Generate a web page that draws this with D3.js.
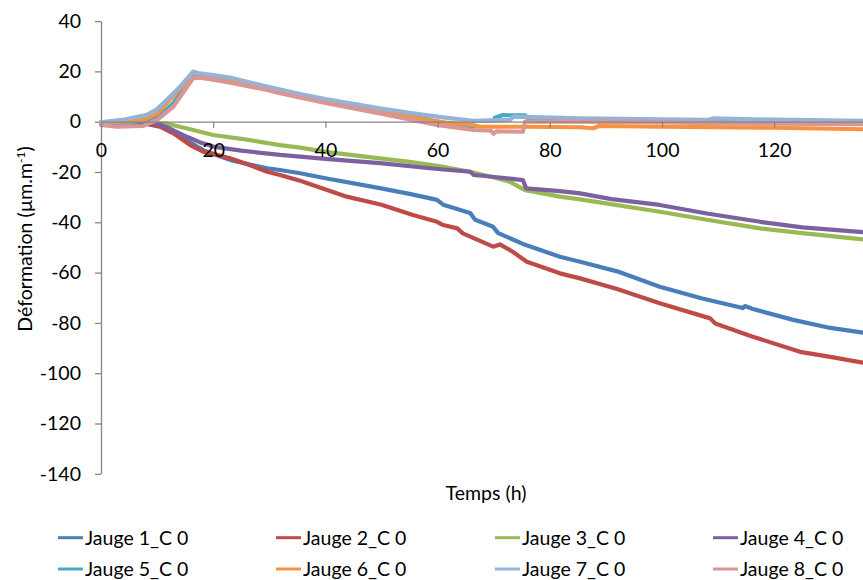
<!DOCTYPE html>
<html>
<head>
<meta charset="utf-8">
<script src="https://cdn.jsdelivr.net/npm/d3@7"></script>
<style>
  html, body { margin: 0; padding: 0; background: #fff; overflow: hidden; }
  svg { display: block; font-family: Lato, "Open Sans", sans-serif; }
</style>
</head>
<body>
<svg id="chart" width="863" height="580"></svg>
<script>
// ---- Data (Temps en h, Déformation en µm/m) ----
const seriesNames = ["Jauge 1_C 0","Jauge 2_C 0","Jauge 3_C 0","Jauge 4_C 0","Jauge 5_C 0","Jauge 6_C 0","Jauge 7_C 0","Jauge 8_C 0"];
const seriesColors = ["#4a7ebb","#be4b48","#98b954","#7d60a0","#46aac5","#f69240","#95b3d7","#d99694"];
const xTicks = [0,20,40,60,80,100,120];
const yTicks = [-140,-120,-100,-80,-60,-40,-20,0,20,40];

const jauge1 = [[0,-1],[8,-0.8],[10.5,-1.8],[12.9,-4.2],[15.9,-8.3],[18.2,-11.3],[20,-12.8],[23.5,-15.5],[29.6,-18.5],[31.9,-19.2],[35.5,-20.5],[40,-22.5],[49.7,-26.4],[55,-28.7],[59.9,-31.1],[61,-33],[65.8,-36.3],[66.7,-39],[69.9,-41.8],[70.8,-44.3],[75.2,-48.6],[81.8,-53.7],[85.4,-55.7],[92,-59.5],[99.6,-65.6],[107,-70.2],[114.4,-74.1],[114.8,-73.3],[116.2,-74.5],[123.4,-78.8],[130,-82],[135.8,-83.9],[140,-85.2]];
const jauge2 = [[0,-1],[8,-0.8],[10.5,-2],[12.9,-4.6],[15.9,-9.3],[18.2,-11.9],[20,-12.8],[23,-14.5],[26,-16.8],[29.6,-19.9],[31.9,-21.2],[35.5,-23.5],[43.8,-29.8],[50,-33],[55.6,-37.1],[59.9,-39.8],[61,-41.1],[63.5,-42.4],[64.5,-44.4],[69.9,-49.7],[71.1,-48.8],[73.4,-51.7],[75.9,-55.7],[81.8,-60.3],[85.4,-62.3],[92,-66.5],[99.6,-72.2],[108.6,-78.2],[109.5,-80.2],[114.4,-84.1],[116.2,-85.5],[124.6,-91.5],[130,-93.5],[135.8,-95.8],[140,-97]];
const jauge3 = [[0,-0.3],[8,-0.3],[11.7,-0.8],[15,-2.5],[20,-5.3],[25,-6.8],[31.9,-9.3],[35.5,-10.3],[40,-12],[49.7,-14.6],[55,-16],[60,-17.5],[65.8,-19.9],[70.6,-22.5],[73,-24],[75.6,-27.2],[81.8,-29.8],[85.4,-30.9],[88,-31.8],[99.6,-35.8],[108,-39],[117.5,-42.4],[125,-44.3],[135.8,-46.8],[140,-48]];
const jauge4 = [[0,-0.3],[8,-0.3],[9.9,-0.6],[12,-2.5],[15.3,-6],[18,-8.5],[20,-9.9],[25,-11.5],[31.9,-13.2],[35.5,-13.9],[40,-14.8],[49.7,-16.5],[60,-18.8],[65.8,-19.9],[66.5,-21.2],[70.6,-22.1],[75.2,-23.2],[75.8,-26.5],[81.8,-27.6],[85.4,-28.5],[91,-30.8],[99.6,-33.1],[108,-36.5],[117.5,-39.8],[125,-42],[135.8,-43.9],[140,-44.8]];
const jauge5 = [[0,-1],[4,-0.5],[8.2,0.4],[10.6,2.7],[12.9,7.4],[16.4,19],[17.6,18.8],[23.5,17],[29.6,13.6],[40,8.3],[49.7,5],[55,3],[58.6,0.7],[62,-0.8],[66.5,-2],[null,null],[70.2,1.6],[71.5,2.6],[75.6,2.5],[76.2,1.2],[85.4,1],[100,0.6],[120,0.5],[135.8,0],[140,0]];
const jauge6 = [[0,-0.3],[5,0],[8.2,1.3],[10,3.3],[11.7,7.4],[14,13],[16.4,17.5],[17.6,17.5],[23.5,15.8],[29.6,13],[40,8],[49.7,4.3],[58.6,0.5],[62,-0.5],[66.3,-1.3],[67.6,-2],[75.6,-2],[85.4,-2.2],[87.7,-2.6],[88.8,-1.7],[100,-2],[120,-2.4],[135.8,-3],[140,-3]];
const jauge7 = [[0,-0.3],[4,0.8],[8.2,2.7],[10,5],[11.7,8.6],[14.1,13.9],[16.4,19.9],[17.6,19.2],[20,18.5],[23.5,17.3],[29.6,14],[35.5,11],[40,9],[49.7,5.3],[55,3.5],[59.9,2],[66.3,0.3],[72.9,0.7],[73.5,2],[85.4,1.3],[100,0.9],[108,0.7],[109,1.3],[120,0.8],[135.8,0.3],[140,0.2]];
const jauge8 = [[0,-1.3],[2.8,-2],[7.5,-1.7],[10,0.7],[12.9,6],[16.4,17.3],[17.6,17.7],[23.5,15.3],[29.6,12.6],[31.9,11.3],[40,7.5],[49.7,3.3],[59.9,-1.3],[66.3,-3.3],[69.5,-3.6],[70,-4.8],[70.5,-3.8],[75.2,-4],[75.6,0],[85.4,0],[100,-0.3],[120,-0.8],[135.8,-1],[140,-1]];
const allSeries = [jauge1,jauge2,jauge3,jauge4,jauge5,jauge6,jauge7,jauge8];

// ---- Layout ----
const svg = d3.select("#chart");
const x = d3.scaleLinear().domain([0,140]).range([101, 101 + 5.61*140]);
const y = d3.scaleLinear().domain([-140,40]).range([473.8, 21.1]);
const axisColor = "#868686";
const fontSize = 19.5;
const fmt = d => String(d);

// Y axis
const yAxis = svg.append("g").attr("transform", `translate(${x(0)},0)`)
  .call(d3.axisLeft(y).tickValues(yTicks).tickSize(6).tickSizeOuter(0).tickPadding(14).tickFormat(fmt));
yAxis.select(".domain").attr("stroke", axisColor).attr("stroke-width", 1.3);
yAxis.selectAll(".tick line").attr("stroke", axisColor).attr("stroke-width", 1.3);
yAxis.selectAll("text").attr("font-size", fontSize).attr("font-family", "Lato, sans-serif").attr("fill", "#000");

// X axis at y=0
const xAxis = svg.append("g").attr("transform", `translate(0,${y(0)})`)
  .call(d3.axisBottom(x).tickValues(xTicks).tickSize(6).tickSizeOuter(0).tickFormat(fmt));
xAxis.select(".domain").attr("stroke", axisColor).attr("stroke-width", 1.3);
xAxis.selectAll(".tick line").attr("stroke", axisColor).attr("stroke-width", 1.3);

// Series lines
const line = d3.line().defined(d => d[0] !== null).x(d => x(d[0])).y(d => y(d[1]));
svg.append("g").selectAll("path").data(allSeries).join("path")
  .attr("d", line)
  .attr("fill", "none")
  .attr("stroke", (d,i) => seriesColors[i])
  .attr("stroke-width", 4.2)
  .attr("stroke-linejoin", "round")
  .attr("stroke-linecap", "round");

// x tick labels on top
xAxis.raise();
xAxis.selectAll("text").attr("font-size", fontSize).attr("font-family", "Lato, sans-serif")
  .attr("fill", "#000").attr("y", 35).attr("dy", 0);

// Axis titles
svg.append("text").attr("x", 486).attr("y", 500).attr("text-anchor", "middle")
  .attr("font-size", fontSize).text("Temps (h)");
const yt = svg.append("text").attr("transform", "translate(32,239) rotate(-90)")
  .attr("text-anchor", "middle").attr("font-size", fontSize);
yt.append("tspan").text("Déformation (µm.m");
yt.append("tspan").attr("font-size", 12).attr("dy", -7).text("-1");
yt.append("tspan").attr("dy", 7).text(")");

// Legend
const legendCol = d3.scaleOrdinal().domain([0,1,2,3]).range([58, 276, 495, 713]);
const legendRow = d3.scaleOrdinal().domain([0,1]).range([537.7, 569]);
const lg = svg.append("g").selectAll("g").data(seriesNames).join("g")
  .attr("transform", (d,i) => `translate(${legendCol(i % 4)},${legendRow(Math.floor(i / 4))})`);
lg.append("line").attr("x1", 0).attr("x2", 25).attr("y1", 0).attr("y2", 0)
  .attr("stroke", (d,i) => seriesColors[i]).attr("stroke-width", 3);
lg.append("text").attr("x", 27).attr("y", 0).attr("dy", "0.35em")
  .attr("font-size", fontSize).text(d => d);
</script>
</body>
</html>
